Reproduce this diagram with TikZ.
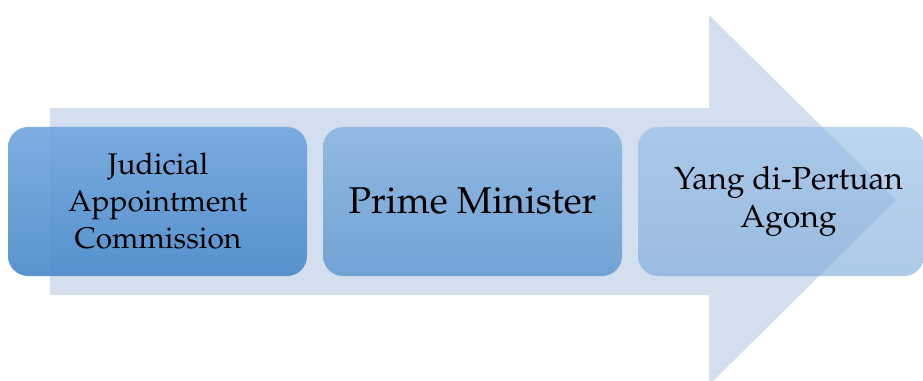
\documentclass[tikz,border=0pt]{standalone}
\usepackage[T1]{fontenc}
\usepackage{mathpazo}
\definecolor{arrowfill}{HTML}{D3DEEE}
\definecolor{boxAtop}{HTML}{72A7DF}
\definecolor{boxAbot}{HTML}{4C8BCB}
\definecolor{boxBtop}{HTML}{8DB6E1}
\definecolor{boxBbot}{HTML}{6A9ED3}
\definecolor{boxCtop}{HTML}{8EB9E5}
\definecolor{boxCbot}{HTML}{76A5D9}
\tikzset{
  stagebox/.style={rounded corners=15pt, minimum height=111.75pt, inner sep=0pt, draw=none},
  stagetext/.style={align=center, text=black, inner sep=0pt}
}
\begin{document}
\begin{tikzpicture}[x=0.75pt,y=-0.75pt]
\useasboundingbox (0,0) rectangle (923,381);
\clip (0,0) rectangle (923,381);
% broad background arrow
\fill[arrowfill] (50,108) -- (709,108) -- (709,15) -- (896,200) -- (709,385)
  -- (709,295) -- (50,295) -- cycle;
% three stages
\node[stagebox, minimum width=224.25pt, top color=boxAtop, bottom color=boxAbot,
  fill opacity=0.92] (jac) at (157.5,201.5) {};
\node[stagebox, minimum width=224.25pt, top color=boxBtop, bottom color=boxBbot,
  fill opacity=0.92] (pm) at (472.5,201.5) {};
\node[stagebox, minimum width=214.5pt, top color=boxCtop, bottom color=boxCbot,
  fill opacity=0.6] (ydpa) at (781,201.5) {};
% labels
\node[stagetext, font=\fontsize{22.4}{27.5}\selectfont] (jact) at (158,201)
  {Judicial\\Appointment\\Commission};
\node[stagetext, font=\fontsize{28}{33}\selectfont] (pmt) at (472.5,201) {Prime Minister};
\node[stagetext, font=\fontsize{23.9}{28.5}\selectfont] (ydpat) at (788.5,201)
  {Yang di-Pertuan\\Agong};
\end{tikzpicture}
\end{document}
